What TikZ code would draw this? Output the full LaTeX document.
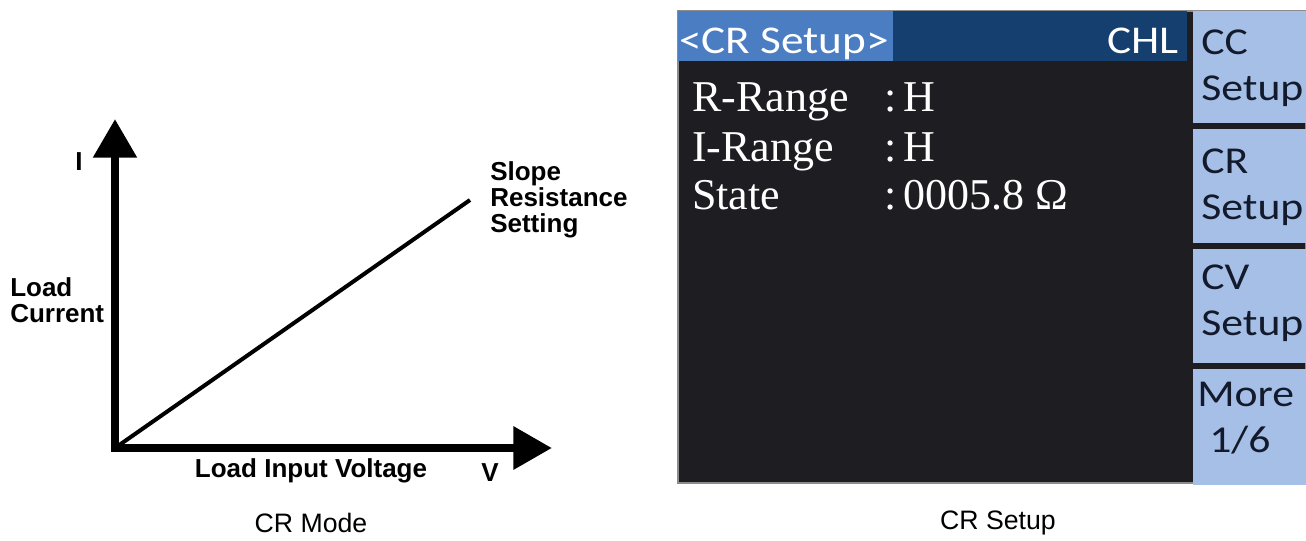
\documentclass[tikz,border=0pt]{standalone}
\usepackage{fontspec}
\setmainfont{Liberation Serif}
\setsansfont{Liberation Sans}
\newfontfamily\lcdsans[FakeStretch=1.15]{Carlito}
\usetikzlibrary{arrows.meta}
\definecolor{scrblack}{HTML}{1E1D22}
\definecolor{hdrlight}{HTML}{4B7DC3}
\definecolor{hdrdark}{HTML}{153F6E}
\definecolor{keyblue}{HTML}{A6BFE6}
\definecolor{keyink}{HTML}{121A2C}

\begin{document}
\begin{tikzpicture}[
  x=0.75pt,y=-0.75pt,
  axis/.style={line width=6.4pt,line join=miter,
               {Triangle[length=29pt,width=31.5pt]}-{Triangle[length=29pt,width=31pt]}},
  slope/.style={line width=3pt},
  lab/.style={font=\sffamily\bfseries\fontsize{19.5}{19.5}\selectfont,align=left,inner sep=0pt},
  capt/.style={font=\sffamily\fontsize{20}{24}\selectfont,inner sep=0pt},
  hdr/.style={font=\lcdsans\fontsize{29.5}{30}\selectfont,text=white,inner sep=0pt},
  key/.style={fill=keyblue},
  keytxt/.style={font=\lcdsans\fontsize{28.5}{34.5}\selectfont,text=keyink,align=left,
                 inner sep=0pt,anchor=west},
  val/.style={font=\rmfamily\fontsize{33}{40}\selectfont,text=white,inner sep=0pt,anchor=base west}
]
\useasboundingbox (0,0) rectangle (1306,540);

% CR mode graph
\coordinate (o) at (115,448);
\coordinate (itip) at (115,119);
\coordinate (vtip) at (552,448);
\coordinate (rset) at (470,200);
\draw[slope] (o) -- (rset);
\draw[axis] (itip) -- (o) -- (vtip);

\node[lab] (ilab) at (79,162) {I};
\node[lab,anchor=west] (curr) at (10,300) {Load\\Current};
\node[lab,anchor=west] (slp) at (490,200) {Slope\\Resistance\\Setting};
\node[lab] (volt) at (311,471) {Load Input Voltage};
\node[lab] (vlab) at (490,473) {V};
\node[capt] (capl) at (311,523) {CR Mode};

% CR setup screen
\fill[scrblack,draw=black!45,line width=0.8pt] (678,11) rectangle (1306,483);
\fill[hdrlight] (678,11) rectangle (893,61);
\fill[hdrdark] (893,11) rectangle (1187,61);
\node[hdr,anchor=base west] (title) at (679,53) {<CR Setup>};
\node[hdr,anchor=base east] (chl) at (1179,53) {CHL};

\foreach \name/\v/\y in {R-Range/H/111,I-Range/H/161,State/0005.8 Ω/209}{
  \node[val] (n-\y) at (692,\y) {\name};
  \node[val] (v-\y) at (884,\y) {:\,\v};
}

% soft keys
\foreach \t/\b in {11/123,129/243,249/363,369/485}
  \fill[key] (1193,\t) rectangle (1306,\b);
\node[keytxt] (cc) at (1201,68) {CC\\Setup};
\node[keytxt] (cr) at (1201,187) {CR\\Setup};
\node[keytxt] (cv) at (1201,303) {CV\\Setup};
\node[keytxt] (more) at (1197,418) {More\\\hspace{9pt}1/6};

\node[capt] (capr) at (998,523) {CR Setup};

\end{tikzpicture}
\end{document}
